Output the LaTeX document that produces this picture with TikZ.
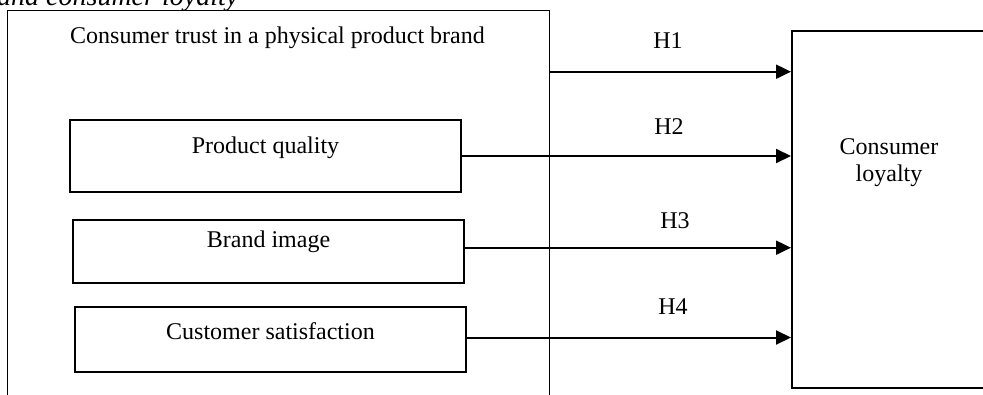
\documentclass[tikz,border=0pt]{standalone}
\usepackage{fontspec}
\setmainfont{Liberation Serif}
\usetikzlibrary{arrows.meta}
\begin{document}
\begin{tikzpicture}[x=1pt,y=-1pt,
  txt/.style={font=\fontsize{24}{28}\selectfont, inner sep=0pt},
  inbox/.style={draw, line width=2pt, minimum width=391pt, minimum height=#1, inner sep=0pt},
  arr/.style={line width=2pt, -{Triangle[length=15pt,width=14pt]}},
  lab/.style={txt, anchor=base}
]
\useasboundingbox (0,0) rectangle (983,394);
\clip (0,0) rectangle (983,394);
\fill[white] (0,0) rectangle (983,394);

% cut-off caption
\node[anchor=base west, inner sep=0pt, font=\fontsize{28}{32}\selectfont\itshape] (cap) at (-3,5) {and consumer loyalty};

% outer box
\node[draw, line width=1.3pt, minimum width=542pt, minimum height=420pt, inner sep=0pt, anchor=north west] (big) at (7,10) {};
\node[txt, anchor=base west] (bigt) at (70,43) {Consumer trust in a physical product brand};

% inner boxes
\node[inbox=72pt, anchor=north west] (pq) at (69,119) {};
\node[lab] (pqt) at (pq.center |- 0,153) {Product quality};
\node[inbox=63pt, anchor=north west] (bi) at (72,219) {};
\node[lab] (bit) at (bi.center |- 0,247) {Brand image};
\node[inbox=65pt, anchor=north west] (cs) at (74,306) {};
\node[lab] (cst) at (cs.center |- 0,339) {Customer satisfaction};

% right box
\node[draw, line width=2pt, minimum width=200pt, minimum height=357pt, inner sep=0pt, anchor=north west] (cl) at (791,30) {};
\node[txt, align=center, anchor=base] (clt) at (889,181.7) {Consumer\\[-0.5pt]loyalty};

% arrows
\coordinate (h1s) at (549,71.7);
\draw[arr] (h1s) -- (h1s -| cl.west);
\draw[arr] (pq.east) -- (pq.east -| cl.west);
\draw[arr] (bi.east |- 0,247.7) coordinate (h3s) -- (h3s -| cl.west);
\draw[arr] (cs.east |- 0,337.5) coordinate (h4s) -- (h4s -| cl.west);

% labels
\node[lab] (H1) at (668,48.3) {H1};
\node[lab] (H2) at (669,134.3) {H2};
\node[lab] (H3) at (675,228.3) {H3};
\node[lab] (H4) at (673,314.3) {H4};
\end{tikzpicture}
\end{document}
